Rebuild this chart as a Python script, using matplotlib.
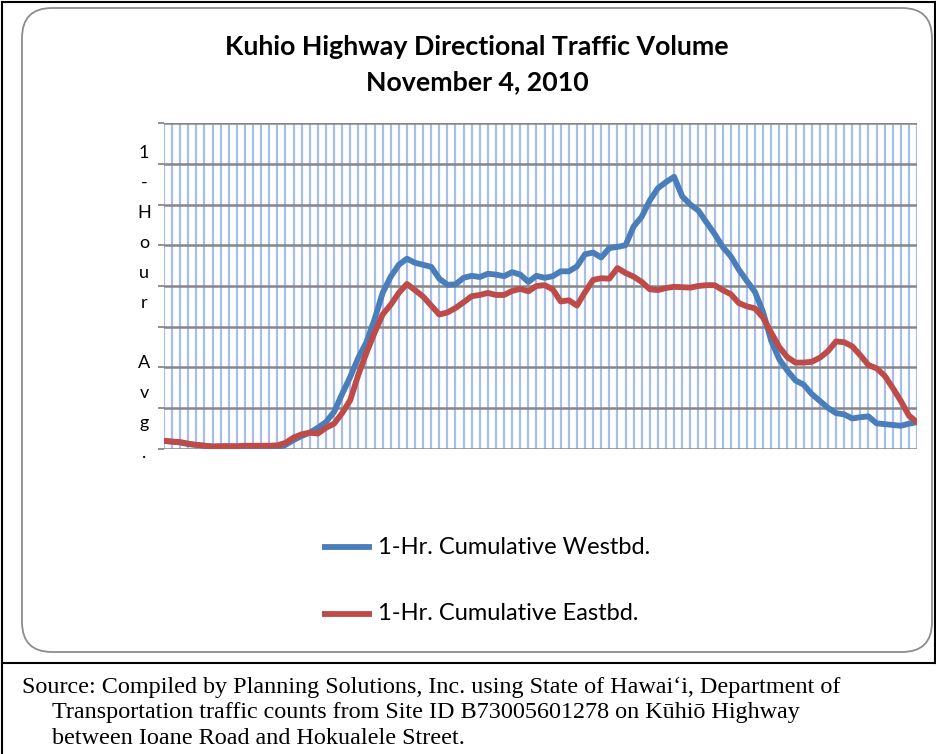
import numpy as np
import matplotlib.pyplot as plt
from matplotlib.patches import FancyBboxPatch

# 1-hour rolling volumes, one reading per interval across the day
westbound = [20, 18, 16, 12, 10, 8, 6, 6, 6, 5, 5, 4, 3, 2, 3, 10, 22, 32, 40, 52,
             66, 91, 135, 177, 224, 262, 318, 383, 423, 452, 467, 457, 452, 447, 418, 403, 404, 420, 425, 422,
             430, 428, 424, 434, 428, 410, 425, 420, 424, 436, 436, 448, 478, 482, 470, 493, 496, 500, 546, 570,
             610, 640, 655, 668, 620, 600, 585, 556, 528, 496, 473, 440, 412, 385, 335, 265, 220, 192, 168, 158,
             135, 118, 101, 88, 85, 75, 78, 80, 63, 61, 59, 57, 62, 66]
eastbound = [20, 18, 17, 13, 10, 8, 6, 7, 7, 7, 8, 8, 8, 8, 9, 15, 28, 36, 40, 38,
             52, 62, 88, 120, 182, 236, 285, 330, 354, 383, 405, 390, 374, 352, 330, 335, 346, 360, 375, 378,
             383, 378, 378, 388, 393, 387, 400, 402, 392, 362, 365, 352, 385, 415, 419, 418, 444, 432, 423, 410,
             392, 390, 395, 398, 397, 396, 400, 402, 402, 390, 380, 358, 350, 345, 322, 285, 250, 225, 212, 212,
             214, 224, 240, 264, 262, 252, 230, 206, 198, 180, 150, 118, 82, 66]
series_names = ["1-Hr. Cumulative Westbd.", "1-Hr. Cumulative Eastbd."]
axis_label = "1-Hour Avg."
title_lines = ["Kuhio Highway Directional Traffic Volume", "November 4, 2010"]
source_lines = [
    "Source: Compiled by Planning Solutions, Inc. using State of Hawai\u2018i, Department of",
    "Transportation traffic counts from Site ID B73005601278 on K\u016bhi\u014d Highway",
    "between Ioane Road and Hokualele Street.",
]

BLUE = "#4a7ebb"
RED = "#be4b48"
W, H = 937, 754

fig = plt.figure(figsize=(W / 100, H / 100), dpi=100)

# full-figure pixel canvas for frames and text
bg = fig.add_axes([0, 0, 1, 1])
bg.set_xlim(0, W)
bg.set_ylim(H, 0)
bg.axis("off")

bg.plot([2, 2], [2, H], color="black", lw=1.5)
bg.plot([2, 935], [2, 2], color="black", lw=1.5)
bg.plot([935, 935], [2, 663], color="black", lw=1.5)
bg.plot([2, W], [663, 663], color="black", lw=1.5)
bg.add_patch(FancyBboxPatch((22, 8), 910, 644, boxstyle="round,pad=0,rounding_size=30",
                            facecolor="white", edgecolor="#8c8c8c", lw=1.3))

bg.text(477, 47, title_lines[0], ha="center", va="center", fontsize=19.3,
        fontweight="bold", family="Lato")
bg.text(477, 82, title_lines[1], ha="center", va="center", fontsize=19.3,
        fontweight="bold", family="Lato")

# stacked axis label, one character per line
for k, ch in enumerate(axis_label):
    bg.text(144, 158 + 30 * k, ch, ha="center", va="baseline", fontsize=13, family="Lato")

# legend entries
for name, col, y in [(series_names[0], BLUE, 547), (series_names[1], RED, 614)]:
    bg.plot([322, 372], [y, y], color=col, lw=4.2, solid_capstyle="butt")
    bg.text(378, y, name, ha="left", va="center", fontsize=17, family="Lato")

for i, line in enumerate(source_lines):
    bg.text(22 if i == 0 else 52, 687 + 25.5 * i, line, ha="left", va="center",
            fontsize=17.4, family="Liberation Serif")

# plot area
ax = fig.add_axes([164 / W, 1 - 449 / H, (917 - 164) / W, (449 - 123) / H])
ax.set_facecolor("none")
x = np.arange(len(westbound))
ax.set_xlim(0, len(westbound) - 1)
ax.set_ylim(0, 800)
ax.set_xticks(x)
ax.set_yticks(np.arange(0, 801, 100))
ax.tick_params(axis="x", length=0, labelbottom=False)
ax.tick_params(axis="y", length=4, width=1.3, color="#888888", labelleft=False)
for xv in x:
    ax.axvline(xv, color="#a7bfe6", lw=1.6, zorder=1)
for yv in np.arange(0, 801, 100):
    ax.axhline(yv, color="#878787", lw=1.8, zorder=2)
for s in ax.spines.values():
    s.set_visible(False)

ax.plot(x, westbound, color=BLUE, lw=4.2, zorder=4, solid_joinstyle="round", solid_capstyle="round")
ax.plot(x, eastbound, color=RED, lw=4.2, zorder=5, solid_joinstyle="round", solid_capstyle="round")

fig.savefig("out.png", dpi=100)
